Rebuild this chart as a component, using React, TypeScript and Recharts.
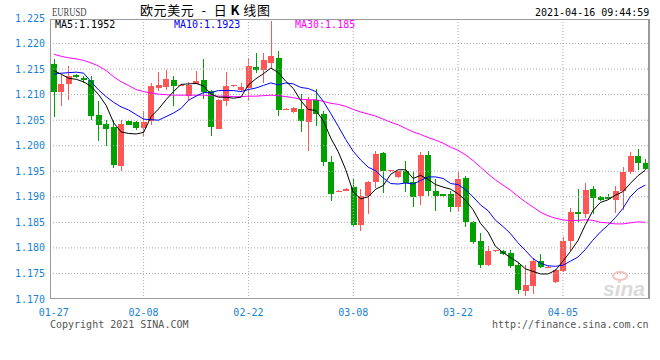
import { ComposedChart, Bar, Line, XAxis, YAxis, ReferenceLine } from "recharts";

// EUR/USD daily candles, 01-27 .. 04-16
const dates = [
  "01-27", "01-28", "01-29", "01-30", "01-31",
  "02-01", "02-02", "02-03", "02-04", "02-05", "02-06", "02-07", "02-08", "02-09", "02-10",
  "02-11", "02-12", "02-13", "02-14", "02-15", "02-16", "02-17", "02-18", "02-19", "02-20",
  "02-21", "02-22", "02-23", "02-24", "02-25", "02-26", "02-27", "02-28",
  "03-01", "03-02", "03-03", "03-04", "03-05", "03-06", "03-07", "03-08", "03-09", "03-10",
  "03-11", "03-12", "03-13", "03-14", "03-15", "03-16", "03-17", "03-18", "03-19", "03-20",
  "03-21", "03-22", "03-23", "03-24", "03-25", "03-26", "03-27", "03-28", "03-29", "03-30", "03-31",
  "04-01", "04-02", "04-03", "04-04", "04-05", "04-06", "04-07", "04-08", "04-09", "04-10",
  "04-11", "04-12", "04-13", "04-14", "04-15", "04-16",
];

const opens = [
  1.2160, 1.2106, 1.2120, 1.2138, 1.2133, 1.2129, 1.2060, 1.2043, 1.2036, 1.1961,
  1.2049, 1.2047, 1.2036, 1.2049, 1.2114, 1.2116, 1.2129, 1.2117, 1.2097, 1.2122,
  1.2129, 1.2107, 1.2034, 1.2088, 1.2116, 1.2109, 1.2112, 1.2154, 1.2148, 1.2162,
  1.2171, 1.2070, 1.2066, 1.2072, 1.2047, 1.2090, 1.2062, 1.1969, 1.1910, 1.1913,
  1.1919, 1.1844, 1.1901, 1.1929, 1.1986, 1.1950, 1.1938, 1.1950, 1.1929, 1.1901,
  1.1981, 1.1912, 1.1905, 1.1905, 1.1880, 1.1936, 1.1851, 1.1813, 1.1766, 1.1793,
  1.1794, 1.1790, 1.1766, 1.1716, 1.1726, 1.1774, 1.1762, 1.1734, 1.1754, 1.1814,
  1.1871, 1.1868, 1.1916, 1.1900, 1.1900, 1.1895, 1.1911, 1.1947, 1.1979, 1.1966,
];

const highs = [
  1.2169, 1.2138, 1.2156, 1.2140, 1.2136, 1.2136, 1.2088, 1.2051, 1.2051, 1.2051,
  1.2051, 1.2049, 1.2067, 1.2123, 1.2145, 1.2149, 1.2136, 1.2120, 1.2125, 1.2147,
  1.2169, 1.2109, 1.2091, 1.2145, 1.2119, 1.2123, 1.2171, 1.2181, 1.2181, 1.2244,
  1.2185, 1.2073, 1.2075, 1.2101, 1.2095, 1.2112, 1.2067, 1.1979, 1.1913, 1.1918,
  1.1934, 1.1916, 1.1931, 1.1990, 1.1988, 1.1953, 1.1951, 1.1970, 1.1950, 1.1987,
  1.1990, 1.1934, 1.1906, 1.1911, 1.1948, 1.1940, 1.1853, 1.1830, 1.1804, 1.1796,
  1.1796, 1.1796, 1.1771, 1.1766, 1.1781, 1.1788, 1.1764, 1.1758, 1.1821, 1.1879,
  1.1916, 1.1927, 1.1921, 1.1901, 1.1905, 1.1921, 1.1958, 1.1988, 1.1994, 1.1975,
];

const lows = [
  1.2057, 1.2078, 1.2090, 1.2132, 1.2123, 1.2051, 1.2009, 1.2000, 1.1956, 1.1950,
  1.2040, 1.2031, 1.2018, 1.2041, 1.2107, 1.2109, 1.2078, 1.2116, 1.2090, 1.2120,
  1.2092, 1.2020, 1.2033, 1.2078, 1.2115, 1.2107, 1.2088, 1.2142, 1.2122, 1.2151,
  1.2059, 1.2069, 1.2065, 1.2026, 1.1989, 1.2039, 1.1960, 1.1891, 1.1909, 1.1911,
  1.1841, 1.1833, 1.1867, 1.1918, 1.1908, 1.1949, 1.1937, 1.1910, 1.1880, 1.1884,
  1.1901, 1.1872, 1.1900, 1.1870, 1.1872, 1.1840, 1.1807, 1.1760, 1.1765, 1.1792,
  1.1786, 1.1760, 1.1710, 1.1705, 1.1710, 1.1760, 1.1761, 1.1732, 1.1752, 1.1794,
  1.1849, 1.1858, 1.1866, 1.1892, 1.1895, 1.1869, 1.1875, 1.1945, 1.1953, 1.1952,
];

const closes = [
  1.2106, 1.2121, 1.2136, 1.2135, 1.2129, 1.2059, 1.2041, 1.2033, 1.1961, 1.2043,
  1.2041, 1.2036, 1.2047, 1.2117, 1.2119, 1.2131, 1.2117, 1.2119, 1.2118, 1.2127,
  1.2106, 1.2036, 1.2090, 1.2117, 1.2118, 1.2115, 1.2156, 1.2148, 1.2168, 1.2175,
  1.2069, 1.2072, 1.2074, 1.2049, 1.2090, 1.2062, 1.1968, 1.1907, 1.1912, 1.1916,
  1.1844, 1.1901, 1.1929, 1.1984, 1.1951, 1.1952, 1.1950, 1.1927, 1.1899, 1.1981,
  1.1911, 1.1903, 1.1901, 1.1879, 1.1934, 1.1849, 1.1812, 1.1767, 1.1794, 1.1795,
  1.1788, 1.1765, 1.1718, 1.1727, 1.1774, 1.1762, 1.1763, 1.1757, 1.1813, 1.1871,
  1.1868, 1.1914, 1.1899, 1.1894, 1.1897, 1.1912, 1.1949, 1.1979, 1.1965, 1.1955,
];

const ma5 = [
  1.2147, 1.2140, 1.2132, 1.2130, 1.2125, 1.2116, 1.2100, 1.2079, 1.2045, 1.2027,
  1.2024, 1.2023, 1.2026, 1.2057, 1.2072, 1.2090, 1.2106, 1.2120, 1.2121, 1.2122,
  1.2117, 1.2101, 1.2095, 1.2095, 1.2093, 1.2095, 1.2119, 1.2131, 1.2141, 1.2152,
  1.2143, 1.2126, 1.2112, 1.2088, 1.2071, 1.2069, 1.2049, 1.2015, 1.1988, 1.1953,
  1.1909, 1.1896, 1.1900, 1.1915, 1.1922, 1.1944, 1.1953, 1.1953, 1.1936, 1.1942,
  1.1934, 1.1924, 1.1919, 1.1915, 1.1906, 1.1893, 1.1875, 1.1848, 1.1831, 1.1803,
  1.1791, 1.1781, 1.1772, 1.1759, 1.1754, 1.1749, 1.1749, 1.1756, 1.1774, 1.1793,
  1.1814, 1.1845, 1.1873, 1.1889, 1.1894, 1.1903, 1.1910, 1.1926, 1.1941, 1.1952,
];

const ma10 = [
  1.2140, 1.2142, 1.2143, 1.2144, 1.2142, 1.2125, 1.2109, 1.2096, 1.2085, 1.2076,
  1.2070, 1.2061, 1.2052, 1.2051, 1.2050, 1.2057, 1.2064, 1.2073, 1.2089, 1.2097,
  1.2104, 1.2104, 1.2108, 1.2108, 1.2108, 1.2106, 1.2110, 1.2113, 1.2118, 1.2123,
  1.2119, 1.2123, 1.2121, 1.2114, 1.2112, 1.2106, 1.2087, 1.2063, 1.2038, 1.2012,
  1.1989, 1.1972, 1.1958, 1.1951, 1.1937, 1.1926, 1.1925, 1.1927, 1.1925, 1.1932,
  1.1939, 1.1939, 1.1936, 1.1926, 1.1924, 1.1914, 1.1900, 1.1884, 1.1873, 1.1854,
  1.1842, 1.1828, 1.1810, 1.1795, 1.1779, 1.1770, 1.1765, 1.1764, 1.1766, 1.1774,
  1.1782, 1.1797, 1.1815, 1.1831, 1.1844, 1.1859, 1.1877, 1.1900, 1.1915, 1.1923,
];

const ma30 = [
  1.2179, 1.2175, 1.2172, 1.2170, 1.2167, 1.2162, 1.2156, 1.2147, 1.2135, 1.2125,
  1.2118, 1.2110, 1.2106, 1.2103, 1.2101, 1.2100, 1.2099, 1.2099, 1.2099, 1.2099,
  1.2099, 1.2098, 1.2097, 1.2097, 1.2096, 1.2096, 1.2097, 1.2097, 1.2098, 1.2099,
  1.2098, 1.2096, 1.2094, 1.2091, 1.2090, 1.2090, 1.2087, 1.2083, 1.2081, 1.2077,
  1.2071, 1.2066, 1.2062, 1.2058, 1.2052, 1.2046, 1.2041, 1.2034, 1.2027, 1.2022,
  1.2016, 1.2011, 1.2005, 1.1997, 1.1991, 1.1982, 1.1971, 1.1958, 1.1945, 1.1933,
  1.1923, 1.1913, 1.1901, 1.1890, 1.1880, 1.1870, 1.1863, 1.1858, 1.1855, 1.1853,
  1.1854, 1.1855, 1.1854, 1.1850, 1.1849, 1.1847, 1.1847, 1.1849, 1.1851, 1.1850,
];

const yTicks = [1.17, 1.175, 1.18, 1.185, 1.19, 1.195, 1.2, 1.205, 1.21, 1.215, 1.22, 1.225];
const xTicks = ["01-27", "02-08", "02-22", "03-08", "03-22", "04-05"];

const rows = dates.map((date, i) => ({
  date,
  open: opens[i],
  high: highs[i],
  low: lows[i],
  close: closes[i],
  ma5: ma5[i],
  ma10: ma10[i],
  ma30: ma30[i],
}));

const UP = "#ff5555";
const DOWN = "#00a000";
const BLUE = "#1a82d2";
const MONO = "'DejaVu Sans Mono', monospace";

// candle drawn inside the [low, high] range bar
const Candle = (props: any) => {
  const { x, y, width, height, payload } = props;
  if (!payload) return null;
  const { open, close, high, low } = payload;
  const top = height >= 0 ? y : y + height;
  const h = Math.abs(height);
  const k = h / (high - low);
  const color = close >= open ? UP : DOWN;
  const bodyTop = top + (high - Math.max(open, close)) * k;
  const bodyH = Math.max(1, Math.round(Math.abs(close - open) * k));
  const cx = Math.floor(x + width / 2) + 0.5;
  return (
    <g shapeRendering="crispEdges">
      <line x1={cx} x2={cx} y1={top} y2={top + h} stroke={color} strokeWidth={1} />
      <rect x={Math.round(x)} y={Math.round(bodyTop)} width={Math.round(width)} height={bodyH} fill={color} />
    </g>
  );
};

const text = (extra: any) => ({
  position: "absolute" as const,
  fontFamily: MONO,
  fontSize: 10,
  lineHeight: "10px",
  whiteSpace: "nowrap" as const,
  ...extra,
});

export default function App() {
  return (
    <div style={{ position: "relative", width: 660, height: 360, background: "#fff" }}>
      <style>{"body{margin:0}"}</style>

      <ComposedChart
        width={660}
        height={360}
        data={rows}
        margin={{ top: 18, right: 11, bottom: 0, left: 0 }}
      >
        {yTicks.slice(1, -1).map((v) => (
          <ReferenceLine key={v} y={v} stroke="#aaaaaa" strokeDasharray="1 2" />
        ))}
        {xTicks.slice(1).map((d) => (
          <ReferenceLine key={d} x={d} stroke="#aaaaaa" strokeDasharray="1 2" />
        ))}

        <XAxis
          dataKey="date"
          ticks={xTicks}
          interval={0}
          height={61}
          axisLine={false}
          tickLine={false}
          tickSize={8}
          tickMargin={2}
          tick={{ fill: BLUE, fontSize: 10, fontFamily: MONO }}
        />
        <YAxis
          domain={[1.17, 1.225]}
          ticks={yTicks}
          allowDataOverflow
          width={50}
          axisLine={false}
          tickLine={false}
          tickSize={4}
          tickMargin={1}
          tickFormatter={(v: number) => v.toFixed(3)}
          tick={{ fill: BLUE, fontSize: 10, fontFamily: MONO }}
        />

        <Bar
          dataKey={(d: any) => [d.low, d.high]}
          barSize={6}
          shape={(p: any) => <Candle {...p} />}
          isAnimationActive={false}
        />
        <Line dataKey="ma30" stroke="#ff00ff" strokeWidth={1} dot={false} isAnimationActive={false} />
        <Line dataKey="ma10" stroke="#0000ff" strokeWidth={1} dot={false} isAnimationActive={false} />
        <Line dataKey="ma5" stroke="#000000" strokeWidth={1} dot={false} isAnimationActive={false} />
      </ComposedChart>

      {/* plot frame */}
      <div
        style={{
          position: "absolute",
          left: 50,
          top: 19,
          width: 600,
          height: 280,
          border: "1px solid #999",
          borderRightWidth: 2,
          boxSizing: "border-box",
          pointerEvents: "none",
        }}
      />

      {/* header */}
      <div style={text({ left: 52, top: 6, fontFamily: "'Liberation Serif', serif", fontSize: 12, lineHeight: "12px", color: "#444", transform: "scaleX(0.72)", transformOrigin: "left top" })}>
        EURUSD
      </div>
      <div style={text({ left: 140, top: 3, fontFamily: "'Noto Sans CJK SC', sans-serif", fontSize: 13, lineHeight: "13px", color: "#000", letterSpacing: 0.6 })}>
        欧元美元{"\u2002"}-{"\u2002"}日<b>{"\u2009"}K{"\u2009"}</b>线图
      </div>
      <div style={text({ left: 535, top: 8, color: "#000" })}>2021-04-16 09:44:59</div>

      <div style={text({ left: 55, top: 20, color: "#000" })}>MA5:1.1952</div>
      <div style={text({ left: 174, top: 20, color: "#0000ff" })}>MA10:1.1923</div>
      <div style={text({ left: 295, top: 20, color: "#ff00ff" })}>MA30:1.185</div>

      {/* watermark */}
      <div
        style={{
          position: "absolute",
          left: 612,
          top: 271,
          width: 16,
          height: 10,
          borderRadius: "50%",
          border: "2px solid #f4c0c0",
          boxSizing: "border-box",
        }}
      />
      <div style={text({ left: 603, top: 279, fontFamily: "'Liberation Sans', sans-serif", fontSize: 21, lineHeight: "20px", fontStyle: "italic", fontWeight: "bold", color: "#dadada" })}>
        sina
      </div>

      {/* footer */}
      <div style={text({ left: 50, top: 320, color: "#555" })}>Copyright 2021 SINA.COM</div>
      <div style={text({ left: 492, top: 320, color: "#555" })}>http://finance.sina.com.cn</div>
    </div>
  );
}
